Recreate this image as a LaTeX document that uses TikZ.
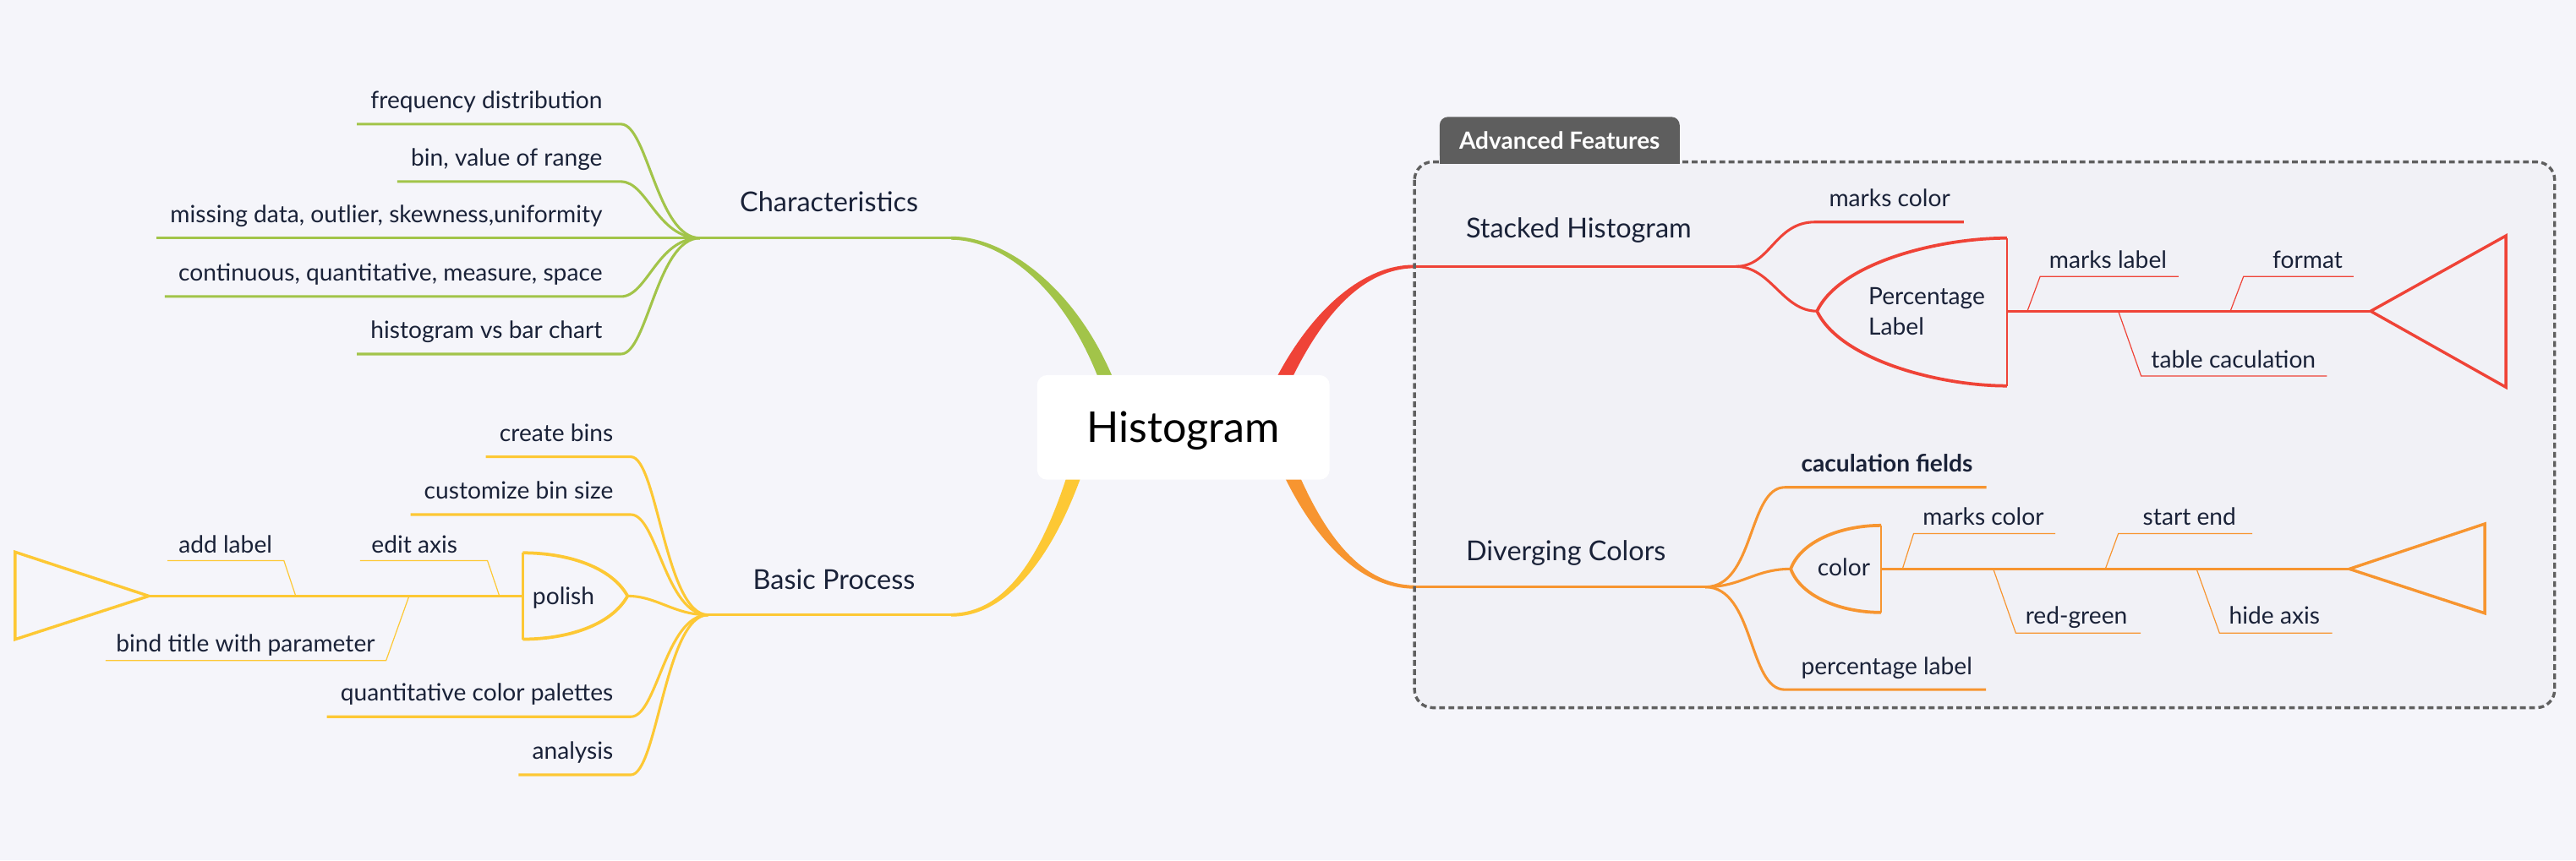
\documentclass[tikz,border=0pt]{standalone}
\usepackage{fontspec}
\setmainfont{Lato}
\usetikzlibrary{calc}
\definecolor{bg}{RGB}{245,245,250}
\definecolor{inbg}{RGB}{241,241,246}
\definecolor{ink}{RGB}{26,34,56}
\definecolor{cgreen}{RGB}{162,196,73}
\definecolor{cyellow}{RGB}{253,200,52}
\definecolor{cred}{RGB}{239,67,55}
\definecolor{corange}{RGB}{247,149,48}
\definecolor{dashc}{RGB}{95,95,95}
\definecolor{tabc}{RGB}{94,94,94}
\begin{document}
\begin{tikzpicture}[x=0.02cm,y=-0.02cm,
  lf/.style={inner sep=0pt,text=ink,font=\fontsize{8.25}{10}\selectfont},
  lfb/.style={inner sep=0pt,text=ink,font=\fontsize{8.25}{10}\selectfont\bfseries},
  bt/.style={inner sep=0pt,text=ink,font=\fontsize{9.5}{11.5}\selectfont},
  ln/.style={line width=0.9pt},
  tn/.style={line width=0.35pt},
  tri/.style={line width=1pt,line join=miter},
  dcurve/.style={line width=1.1pt},
  dside/.style={line width=0.7pt}]
\fill[bg] (0,0) rectangle (1568,524);
\useasboundingbox (0,0) rectangle (1568,524);

% group frame fill
\fill[inbg,rounded corners=0.22cm] (861,98.6) rectangle (1555,431);

% ================= GREEN: Characteristics =================
\coordinate (gj) at (426,145);
\coordinate (gh) at (579,145);
\draw[cgreen,ln] (gj) -- (gh);
\fill[cgreen] (579,144) .. controls (612,143.8) and (661.35,176.98) .. (684.3,248.7)
  -- (675.7,251.3) .. controls (654.65,179.02) and (612,146.2) .. (579,146) -- cycle;
\node[bt,anchor=base west] (gt) at (450,128.7) {Characteristics};

\node[lf,anchor=base east] (g1) at (367,66.1) {frequency distribution};
\coordinate (g1c) at (378,75.6);
\draw[cgreen,ln] ([xshift=-0.16cm]g1.west |- g1c) -- (g1c) .. controls (394,75.6) and (400,145) .. (gj);
\node[lf,anchor=base east] (g2) at (367,101.1) {bin, value of range};
\coordinate (g2c) at (378,110.6);
\draw[cgreen,ln] ([xshift=-0.16cm]g2.west |- g2c) -- (g2c) .. controls (394,110.6) and (400,145) .. (gj);
\node[lf,anchor=base east] (g3) at (367,135.5) {missing data, outlier, skewness,uniformity};
\draw[cgreen,ln] ([xshift=-0.16cm]g3.west |- gj) -- (gj);
\node[lf,anchor=base east] (g4) at (367,171.1) {continuous, quantitative, measure, space};
\coordinate (g4c) at (378,180.6);
\draw[cgreen,ln] ([xshift=-0.16cm]g4.west |- g4c) -- (g4c) .. controls (394,180.6) and (400,145) .. (gj);
\node[lf,anchor=base east] (g5) at (367,206.1) {histogram vs bar chart};
\coordinate (g5c) at (378,215.6);
\draw[cgreen,ln] ([xshift=-0.16cm]g5.west |- g5c) -- (g5c) .. controls (394,215.6) and (400,145) .. (gj);

% ================= YELLOW: Basic Process =================
\coordinate (yj) at (431,374.5);
\coordinate (yh) at (579,374.5);
\draw[cyellow,ln] (yj) -- (yh);
\fill[cyellow] (579,375.5) .. controls (612,375.7) and (643.37,340.96) .. (664.33,271.24)
  -- (655.67,268.76) .. controls (636.63,339.04) and (612,373.3) .. (579,373.5) -- cycle;
\node[bt,anchor=base west] (yt) at (458,358.7) {Basic Process};

\node[lf,anchor=base east] (y1) at (373.6,268.8) {create bins};
\coordinate (y1c) at (384,278.2);
\draw[cyellow,ln] ([xshift=-0.16cm]y1.west |- y1c) -- (y1c) .. controls (400,278.2) and (405,374.5) .. (yj);
\node[lf,anchor=base east] (y2) at (373.6,304) {customize bin size};
\coordinate (y2c) at (384,313.4);
\draw[cyellow,ln] ([xshift=-0.16cm]y2.west |- y2c) -- (y2c) .. controls (400,313.4) and (405,374.5) .. (yj);
\node[lf,anchor=base east] (y4) at (373.6,427.1) {quantitative color palettes};
\coordinate (y4c) at (384,436.5);
\draw[cyellow,ln] ([xshift=-0.16cm]y4.west |- y4c) -- (y4c) .. controls (400,436.5) and (405,374.5) .. (yj);
\node[lf,anchor=base east] (y5) at (373.6,462.5) {analysis};
\coordinate (y5c) at (384,471.9);
\draw[cyellow,ln] ([xshift=-0.16cm]y5.west |- y5c) -- (y5c) .. controls (400,471.9) and (405,374.5) .. (yj);

% polish node
\coordinate (ptip) at (382,363);
\coordinate (ptop) at (318.2,336.7);
\coordinate (pbot) at (318.2,389.3);
\coordinate (pmid) at (318.2,363);
\draw[cyellow,ln] (ptip) .. controls (400,363) and (410,374.5) .. (yj);
\draw[cyellow,dcurve] (ptop) .. controls (345,336.7) and (372,345) .. (ptip) .. controls (372,381) and (345,389.3) .. (pbot);
\draw[cyellow,dside] (ptop) -- (pbot);
\node[lf,anchor=base] (pol) at (343,368) {polish};
% polish fishbone
\coordinate (ytr) at (90.6,363);
\draw[cyellow,ln] (ytr) -- (pmid);
\draw[cyellow,tri] (9.2,336.2) -- (ytr) -- (9.2,389.4) -- cycle;
\draw[cyellow,tn] (180,363) -- (172.8,341.4) -- (101.9,341.4);
\node[lf,anchor=base west] (ya) at (108.4,336.7) {add label};
\draw[cyellow,tn] (304,363) -- (296.7,341.4) -- (219.2,341.4);
\node[lf,anchor=base west] (ye) at (225.8,336.7) {edit axis};
\draw[cyellow,tn] (249,363) -- (235,402.3) -- (64.3,402.3);
\node[lf,anchor=base west] (yb) at (70.3,397) {bind title with parameter};

% ================= RED: Stacked Histogram =================
\coordinate (rh) at (861,162.3);
\coordinate (rj) at (1056.6,162.3);
\draw[cred,ln] (rh) -- (rj);
\fill[cred] (861,161.3) .. controls (830,161.1) and (796.8,188.54) .. (772.9,238.1)
  -- (781.1,241.9) .. controls (803.2,191.46) and (830,163.5) .. (861,163.3) -- cycle;
\node[bt,anchor=base west] (rt) at (892,145) {Stacked Histogram};

\node[lf,anchor=base west] (rm) at (1113,125.6) {marks color};
\coordinate (rmc) at (1105,135.2);
\draw[cred,ln] (rj) .. controls (1078,162.3) and (1080,135.2) .. (rmc) -- ([xshift=0.16cm]rm.east |- rmc);

\coordinate (pltip) at (1106,189.5);
\coordinate (pltop) at (1221.6,145);
\coordinate (plbot) at (1221.6,235);
\coordinate (plmid) at (1221.6,189.5);
\draw[cred,ln] (rj) .. controls (1078,162.3) and (1085,189.5) .. (pltip);
\draw[cred,dcurve] (pltop) .. controls (1180,145) and (1120,160) .. (pltip) .. controls (1120,219) and (1180,235) .. (plbot);
\draw[cred,dside] (pltop) -- (plbot);
\node[lf,anchor=base west] (pl1) at (1137,185.3) {Percentage};
\node[lf,anchor=base west] (pl2) at (1137,203.8) {Label};
\coordinate (rtr) at (1443,189.5);
\draw[cred,ln] (plmid) -- (rtr);
\draw[cred,tri] (rtr) -- (1525.3,143.6) -- (1525.3,235.8) -- cycle;
\draw[cred,tn] (1234,189.5) -- (1241.8,168.4) -- (1326,168.4);
\node[lf,anchor=base west] (rml) at (1247,163.6) {marks label};
\draw[cred,tn] (1357.6,189.5) -- (1365.6,168.4) -- (1432.6,168.4);
\node[lf,anchor=base west] (rf) at (1383,163.6) {format};
\draw[cred,tn] (1289.4,189.5) -- (1303.3,229) -- (1416.3,229);
\node[lf,anchor=base west] (rtc) at (1309,223.9) {table caculation};

% ================= ORANGE: Diverging Colors =================
\coordinate (oh) at (861,357.5);
\coordinate (oj) at (1038,357.5);
\draw[corange,ln] (oh) -- (oj);
\fill[corange] (861,358.5) .. controls (830,358.7) and (799.77,331.35) .. (777.85,281.74)
  -- (786.15,278.26) .. controls (806.23,328.65) and (830,356.3) .. (861,356.5) -- cycle;
\node[bt,anchor=base west] (ot) at (892,341.3) {Diverging Colors};

\node[lfb,anchor=base west] (ocf) at (1096,287.3) {caculation fields};
\coordinate (ocfc) at (1086.4,296.8);
\draw[corange,ln] (oj) .. controls (1068,357.5) and (1064,296.8) .. (ocfc) -- ([xshift=0.16cm]ocf.east |- ocfc);
\node[lf,anchor=base west] (opl) at (1096,410.8) {percentage label};
\coordinate (oplc) at (1086.4,420);
\draw[corange,ln] (oj) .. controls (1068,357.5) and (1064,420) .. (oplc) -- ([xshift=0.16cm]opl.east |- oplc);

\coordinate (ctip) at (1090,346.5);
\coordinate (ctop) at (1145,320);
\coordinate (cbot) at (1145,373);
\coordinate (cmid) at (1145,346.5);
\draw[corange,ln] (oj) .. controls (1060,357.5) and (1068,346.5) .. (ctip);
\draw[corange,dcurve] (ctop) .. controls (1120,320) and (1096,330) .. (ctip) .. controls (1096,363) and (1120,373) .. (cbot);
\draw[corange,dside] (ctop) -- (cbot);
\node[lf,anchor=base west] (col) at (1106,350.8) {color};
\coordinate (otr) at (1430,346.5);
\draw[corange,ln] (cmid) -- (otr);
\draw[corange,tri] (otr) -- (1512.5,319) -- (1512.5,373.5) -- cycle;
\draw[corange,tn] (1158,346.5) -- (1164.8,325) -- (1251,325);
\node[lf,anchor=base west] (omc) at (1170,320) {marks color};
\draw[corange,tn] (1281.5,346.5) -- (1289.4,325) -- (1371,325);
\node[lf,anchor=base west] (ose) at (1304,320) {start end};
\draw[corange,tn] (1213.3,346.5) -- (1227,385.6) -- (1303,385.6);
\node[lf,anchor=base west] (org) at (1232.5,380) {red-green};
\draw[corange,tn] (1337,346.5) -- (1351,385.6) -- (1419.6,385.6);
\node[lf,anchor=base west] (oha) at (1356.5,380) {hide axis};

% group frame outline and tab
\draw[dashc,line width=1pt,dash pattern=on 2pt off 1.2pt,rounded corners=0.22cm] (861,98.6) rectangle (1555,431);
\fill[tabc,rounded corners=0.1cm] (876.3,71.2) rectangle (1022.4,99.6);
\fill[tabc] (876.3,85) rectangle (1022.4,99.6);
\node[inner sep=0pt,text=white,font=\fontsize{8.2}{10}\selectfont\bfseries,anchor=base] (tabt) at (949.3,91) {Advanced Features};

% ================= ROOT =================
\node[fill=white,rounded corners=0.12cm,minimum width=3.56cm,minimum height=1.274cm,inner sep=0pt] (root) at (720.3,260.3) {};
\node[inner sep=0pt,text=black,font=\fontsize{14.7}{17}\selectfont,anchor=base] (roottxt) at (720.3,269.3) {Histogram};
\end{tikzpicture}
\end{document}
